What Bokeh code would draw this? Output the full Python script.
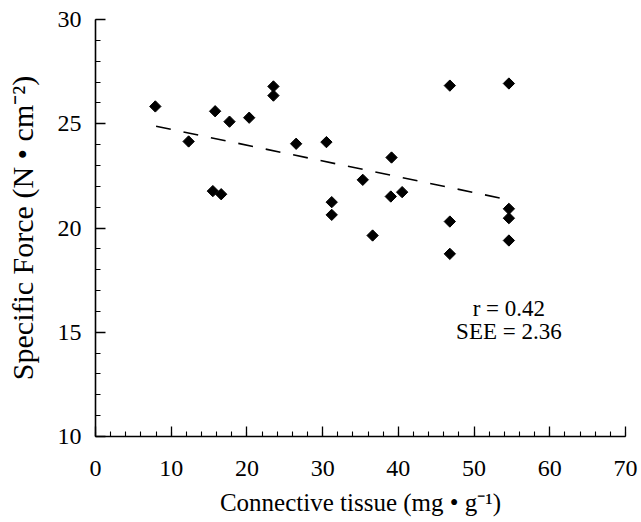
from bokeh.plotting import figure
from bokeh.models import Range1d, SingleIntervalTicker, ColumnDataSource, Label
from bokeh.embed import file_html
from bokeh.resources import INLINE
import numpy as np

# Data
connective = [7.9, 12.3, 15.8, 17.7, 20.3, 23.5, 23.5, 15.5, 16.6,
              26.5, 30.5, 31.2, 31.2, 35.3, 36.6, 39.1, 39.0, 40.5,
              46.8, 46.8, 46.8, 54.6, 54.6, 54.6, 54.6]
specific_force = [25.83, 24.15, 25.6, 25.1, 25.29, 26.79, 26.35, 21.77, 21.62,
                  24.04, 24.12, 21.24, 20.63, 22.31, 19.64, 23.38, 21.51, 21.72,
                  26.83, 20.31, 18.76, 26.93, 20.92, 20.47, 19.4]
fit_x = [8.0, 54.6]
fit_y = [24.88, 21.35]
x_ticks_interval = 10
y_ticks_interval = 5
stats_lines = ["r = 0.42", "SEE = 2.36"]
stats_x = 54.6
stats_y = [16.14, 15.04]

FONT = "Liberation Serif"

p = figure(width=641, height=522, frame_width=530, frame_height=417,
           min_border_left=95, min_border_right=16, min_border_top=19, min_border_bottom=86,
           x_range=Range1d(0, 70), y_range=Range1d(10, 30),
           output_backend="svg", toolbar_location=None, tools="")
p.outline_line_color = None
p.xgrid.grid_line_color = None
p.ygrid.grid_line_color = None
p.background_fill_color = "white"
p.border_fill_color = "white"

p.xaxis.ticker = SingleIntervalTicker(interval=x_ticks_interval, num_minor_ticks=5)
p.yaxis.ticker = SingleIntervalTicker(interval=y_ticks_interval, num_minor_ticks=5)

for ax in (p.xaxis, p.yaxis):
    ax.axis_line_color = "black"
    ax.axis_line_width = 1.6
    ax.major_tick_line_color = "black"
    ax.minor_tick_line_color = "black"
    ax.major_tick_line_width = 1.3
    ax.minor_tick_line_width = 1.1
    ax.major_tick_in = 10
    ax.major_tick_out = 0
    ax.minor_tick_in = 5
    ax.minor_tick_out = 0
    ax.major_label_text_font = FONT
    ax.major_label_text_font_size = "24px"
    ax.major_label_text_color = "black"
    ax.axis_label_text_font = FONT
    ax.axis_label_text_font_style = "normal"
    ax.axis_label_text_color = "black"

p.xaxis.major_label_standoff = 24
p.yaxis.major_label_standoff = 14
p.xaxis.axis_label_text_font_size = "25px"
p.yaxis.axis_label_text_font_size = "30px"
p.xaxis.axis_label = "Connective tissue (mg \u2022 g\u207b\u00b9)"
p.yaxis.axis_label = "Specific Force (N \u2022 cm\u207b\u00b2)"
p.xaxis.axis_label_standoff = 10
p.yaxis.axis_label_standoff = 16

p.line(fit_x, fit_y, line_color="black", line_width=1.6, line_dash="15 13")

src = ColumnDataSource(dict(x=connective, y=specific_force))
p.scatter("x", "y", source=src, marker="square", angle=np.pi / 4, size=8,
          fill_color="black", line_color="black")

for txt, ty in zip(stats_lines, stats_y):
    p.add_layout(Label(x=stats_x, y=ty, text=txt, text_align="center",
                       text_baseline="middle", text_font=FONT, text_font_size="23px",
                       text_color="black"))

open("out.html", "w").write(file_html(p, INLINE))
